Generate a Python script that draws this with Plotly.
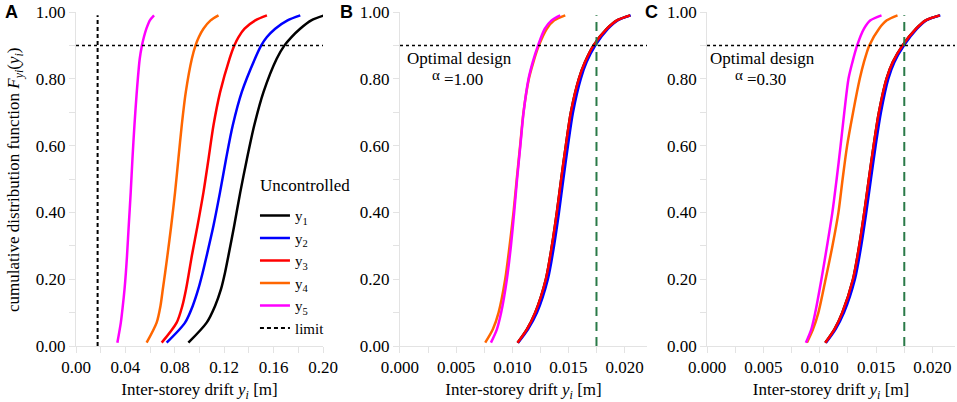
import plotly.graph_objects as go

# cumulative probability levels
F_A = [0.01, 0.07, 0.12, 0.17, 0.22, 0.27, 0.36, 0.46, 0.56, 0.66, 0.76, 0.86, 0.90, 0.925, 0.95, 0.975, 0.99]
F_BC = [0.01, 0.05, 0.10, 0.20, 0.30, 0.40, 0.50, 0.60, 0.70, 0.80, 0.85, 0.90, 0.95, 0.975, 0.99]

# panel A - uncontrolled drifts [m]
A_Y1 = [0.0910, 0.1058, 0.1126, 0.1174, 0.1207, 0.1234, 0.1281, 0.1330, 0.1384, 0.1443, 0.1518, 0.1625, 0.1688, 0.1745, 0.1815, 0.1905, 0.2010]
A_Y2 = [0.0734, 0.0883, 0.0945, 0.0990, 0.1026, 0.1058, 0.1113, 0.1166, 0.1215, 0.1269, 0.1342, 0.1449, 0.1500, 0.1546, 0.1613, 0.1713, 0.1816]
A_Y3 = [0.0694, 0.0815, 0.0861, 0.0891, 0.0915, 0.0938, 0.0984, 0.1032, 0.1073, 0.1113, 0.1167, 0.1243, 0.1282, 0.1316, 0.1365, 0.1452, 0.1546]
A_Y4 = [0.0572, 0.0653, 0.0684, 0.0703, 0.0722, 0.0740, 0.0771, 0.0802, 0.0829, 0.0856, 0.0889, 0.0938, 0.0968, 0.0995, 0.1032, 0.1090, 0.1154]
A_Y5 = [0.0335, 0.0363, 0.0379, 0.0393, 0.0404, 0.0413, 0.0427, 0.0443, 0.0457, 0.0473, 0.0492, 0.0516, 0.0534, 0.0550, 0.0570, 0.0598, 0.0632]

# panel B - optimal design, alpha = 1.00
B_Y1 = [0.01047, 0.01130, 0.01204, 0.01299, 0.01353, 0.01397, 0.01436, 0.01477, 0.01522, 0.01593, 0.01648, 0.01724, 0.01843, 0.01932, 0.02050]
B_Y2 = [0.01052, 0.01140, 0.01220, 0.01317, 0.01372, 0.01416, 0.01455, 0.01496, 0.01541, 0.01610, 0.01662, 0.01740, 0.01853, 0.01938, 0.02055]
B_Y3 = [0.01047, 0.01130, 0.01204, 0.01299, 0.01353, 0.01397, 0.01436, 0.01477, 0.01522, 0.01593, 0.01648, 0.01724, 0.01843, 0.01932, 0.02050]
B_Y4 = [0.00759, 0.00827, 0.00878, 0.00937, 0.00976, 0.01011, 0.01040, 0.01070, 0.01100, 0.01148, 0.01188, 0.01237, 0.01308, 0.01374, 0.01472]
B_Y5 = [0.00810, 0.00863, 0.00901, 0.00952, 0.00988, 0.01017, 0.01043, 0.01072, 0.01101, 0.01145, 0.01182, 0.01230, 0.01290, 0.01350, 0.01427]

# panel C - optimal design, alpha = 0.30
C_Y1 = [0.01049, 0.01130, 0.01200, 0.01295, 0.01350, 0.01395, 0.01436, 0.01478, 0.01525, 0.01592, 0.01648, 0.01735, 0.01855, 0.01940, 0.02065]
C_Y2 = [0.01055, 0.01140, 0.01215, 0.01312, 0.01368, 0.01413, 0.01454, 0.01496, 0.01543, 0.01608, 0.01662, 0.01748, 0.01863, 0.01945, 0.02070]
C_Y3 = [0.01049, 0.01130, 0.01200, 0.01295, 0.01350, 0.01395, 0.01436, 0.01478, 0.01525, 0.01592, 0.01648, 0.01735, 0.01855, 0.01940, 0.02065]
C_Y4 = [0.00886, 0.00940, 0.00988, 0.01052, 0.01113, 0.01166, 0.01203, 0.01243, 0.01296, 0.01355, 0.01392, 0.01440, 0.01526, 0.01595, 0.01690]
C_Y5 = [0.00877, 0.00925, 0.00960, 0.01015, 0.01065, 0.01112, 0.01150, 0.01185, 0.01218, 0.01255, 0.01290, 0.01332, 0.01393, 0.01450, 0.01548]

NAMES = ["y<sub>1</sub>", "y<sub>2</sub>", "y<sub>3</sub>", "y<sub>4</sub>", "y<sub>5</sub>"]
COLORS = ["#000000", "#0000ff", "#ff0000", "#ff6600", "#ff00ff"]

LIMIT = 0.0175
THRESHOLD = 0.9
LIMIT_SPAN = [0, 0.99]

SERIF = "Liberation Serif, Times New Roman, serif"
GRID = "#e3e3e3"
fig = go.Figure()

panels = [
    ("x", "y", F_A, [A_Y1, A_Y2, A_Y3, A_Y4, A_Y5]),
    ("x2", "y2", F_BC, [B_Y1, B_Y2, B_Y3, B_Y4, B_Y5]),
    ("x3", "y3", F_BC, [C_Y1, C_Y2, C_Y3, C_Y4, C_Y5]),
]

for i, (xa, ya, F, series) in enumerate(panels):
    for name, col, vals in zip(NAMES, COLORS, series):
        fig.add_trace(go.Scatter(
            x=vals, y=F, mode="lines", name=name,
            line=dict(color=col, width=2.5, shape="spline", smoothing=0.8),
            xaxis=xa, yaxis=ya, showlegend=(i == 0)))

# limit lines
fig.add_trace(go.Scatter(
    x=[LIMIT, LIMIT], y=LIMIT_SPAN, mode="lines", name="limit",
    line=dict(color="black", width=2, dash="4px,3px"), xaxis="x", yaxis="y"))
for xa, ya in [("x2", "y2"), ("x3", "y3")]:
    fig.add_trace(go.Scatter(
        x=[LIMIT, LIMIT], y=LIMIT_SPAN, mode="lines", showlegend=False,
        line=dict(color="#2a7a48", width=2, dash="9px,6px"), xaxis=xa, yaxis=ya))

# 0.9 probability level
for xa, ya in [("x", "y"), ("x2", "y2"), ("x3", "y3")]:
    fig.add_shape(type="line", xref=xa + " domain", yref=ya, x0=0, x1=1,
                  y0=THRESHOLD, y1=THRESHOLD,
                  line=dict(color="black", width=1.5, dash="dot"))

axis_common = dict(showgrid=False, zeroline=False, showline=True, linecolor=GRID,
                   linewidth=1, ticks="outside", ticklen=6, tickcolor=GRID, automargin=False,
                   tickfont=dict(family=SERIF, size=17, color="black"))
xtitle = dict(text="Inter-storey drift <i>y<sub>i</sub></i> [m]",
              font=dict(family=SERIF, size=17, color="black"))


def minor(step):
    return dict(dtick=step, ticks="outside", ticklen=6, tickcolor=GRID)


fig.update_layout(
    width=957, height=402,
    margin=dict(l=76, r=2, t=12, b=56),
    plot_bgcolor="white", paper_bgcolor="white",
    font=dict(family=SERIF, size=17, color="black"),
    xaxis=dict(domain=[0, 0.281], range=[0, 0.2], dtick=0.04, tickformat=".2f",
               minor=minor(0.02), title=xtitle, **axis_common),
    xaxis2=dict(domain=[0.3686, 0.6496], range=[0, 0.022], dtick=0.005, tickformat=".3f",
                minor=minor(0.0025), title=xtitle, **axis_common),
    xaxis3=dict(domain=[0.7179, 1.0], range=[0, 0.022], dtick=0.005, tickformat=".3f",
                minor=minor(0.0025), title=xtitle, **axis_common),
    yaxis=dict(anchor="x", range=[0, 1], dtick=0.2, tickformat=".2f", minor=minor(0.1), **axis_common),
    yaxis2=dict(anchor="x2", range=[0, 1], dtick=0.2, tickformat=".2f", minor=minor(0.1), **axis_common),
    yaxis3=dict(anchor="x3", range=[0, 1], dtick=0.2, tickformat=".2f", minor=minor(0.1), **axis_common),
    legend=dict(x=0.2036, y=0.439, xanchor="left", yanchor="top",
                bgcolor="rgba(0,0,0,0)", font=dict(family=SERIF, size=15)),
)

# legend heading
fig.add_annotation(text="Uncontrolled", xref="paper", yref="paper", x=0.2071, y=0.482,
                   xanchor="left", yanchor="middle", showarrow=False,
                   font=dict(family=SERIF, size=17, color="black"))

# y axis title of panel A
fig.add_annotation(text="cumulative distribution function <i>F<sub>yi</sub></i>(<i>y<sub>i</sub></i>)",
                   xref="paper", yref="paper", x=-0.0842, y=0.5, xanchor="left", textangle=-90,
                   showarrow=False, font=dict(family=SERIF, size=17, color="black"))

# panel letters
for letter, xp in [("A", -0.083), ("B", 0.298), ("C", 0.645)]:
    fig.add_annotation(text="<b>%s</b>" % letter, xref="paper", yref="paper",
                       x=xp, y=1.0, xanchor="left", yanchor="middle", showarrow=False,
                       font=dict(family="Liberation Sans, Arial, sans-serif", size=18, color="black"))

# design labels
for xa, ya, xc, xs, alpha in [("x2", "y2", 0.00533, 0.00373, "1.00"),
                              ("x3", "y3", 0.00492, 0.00336, "0.30")]:
    fig.add_annotation(text="Optimal design", xref=xa, yref=ya, x=xc, y=0.862,
                       showarrow=False, font=dict(family=SERIF, size=17, color="black"))
    fig.add_annotation(text="α", xref=xa, yref=ya, x=xs, y=0.81, xanchor="right",
                       showarrow=False, font=dict(family=SERIF, size=15, color="black"))
    fig.add_annotation(text="=" + alpha, xref=xa, yref=ya, x=xs, y=0.797, xanchor="left",
                       showarrow=False, font=dict(family=SERIF, size=17, color="black"))

fig.write_html("out.html", config={"displayModeBar": False},
               post_script="document.body.style.margin='0px';")
